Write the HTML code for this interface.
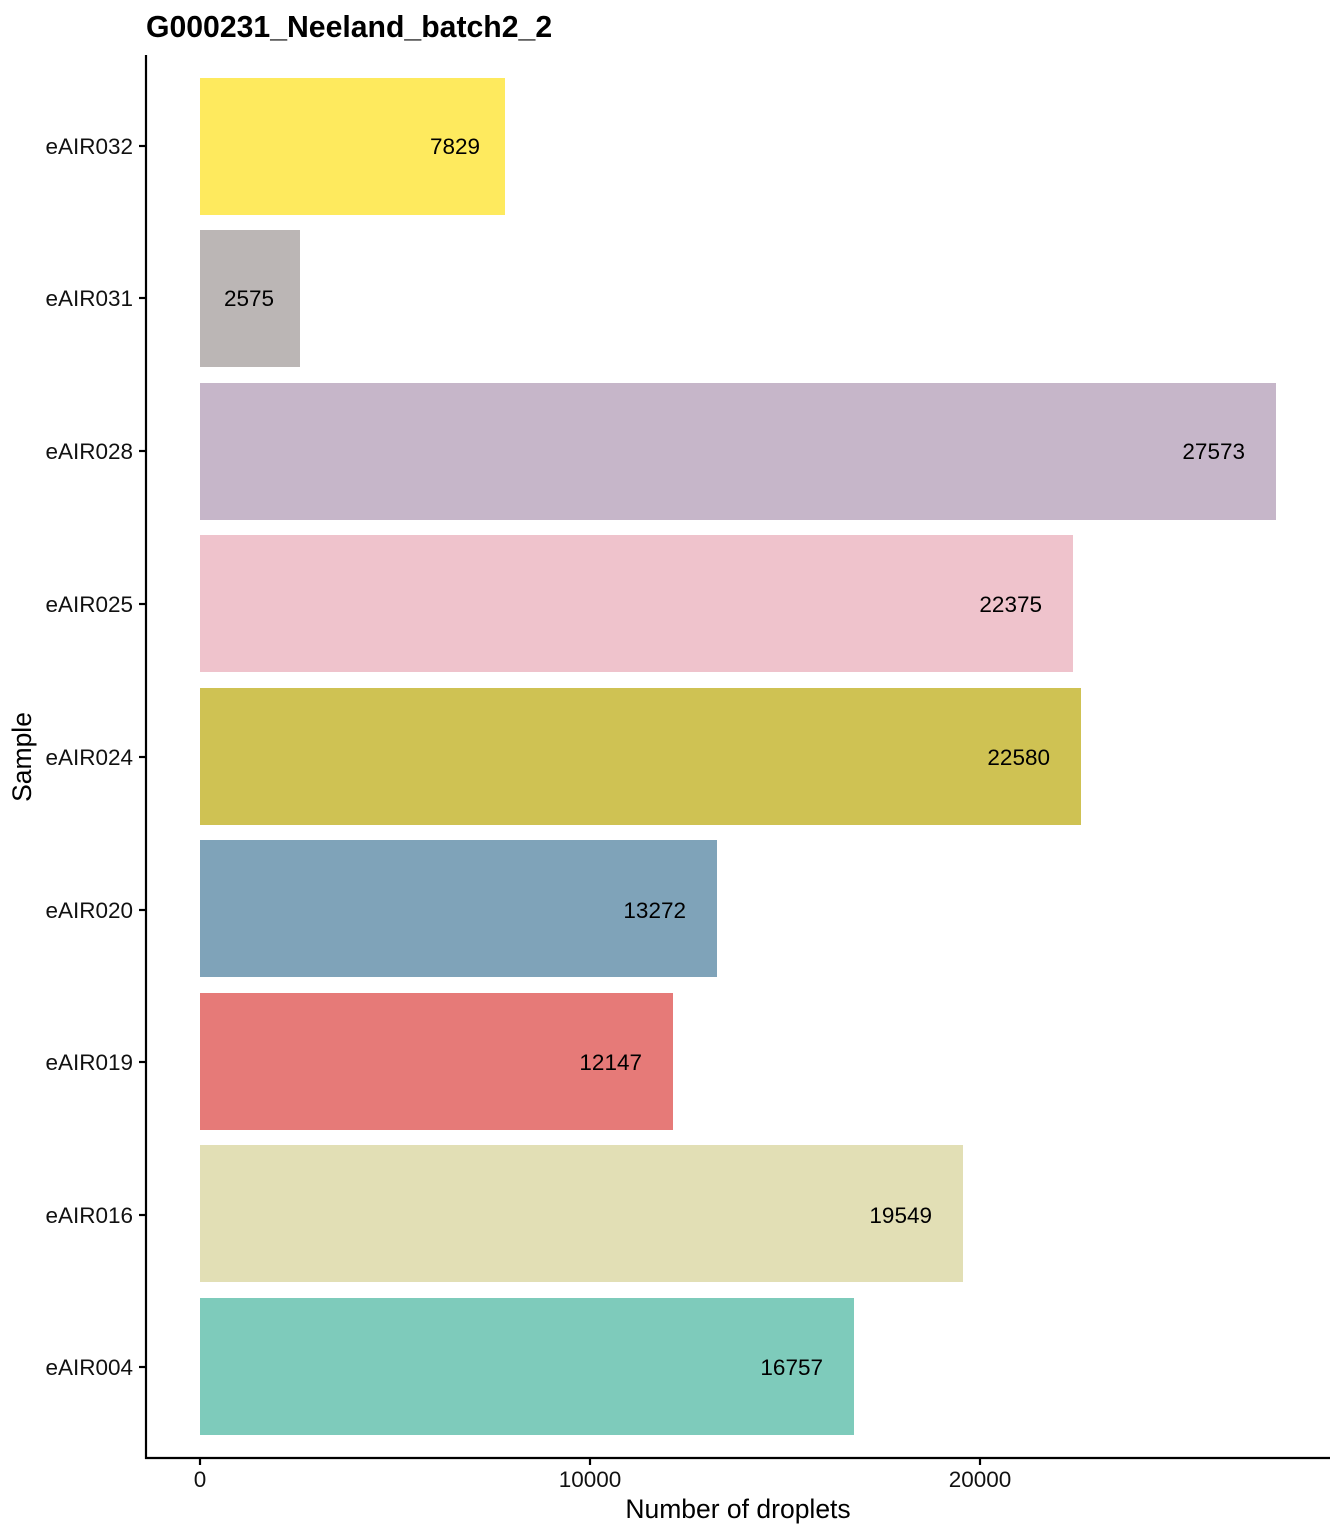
<!DOCTYPE html>
<html><head><style>body{margin:0;background:#fff}svg{display:block}text{font-family:"Liberation Sans",Arial,sans-serif}</style></head>
<body>
<svg width="1344" height="1536" viewBox="0 0 1344 1536" xmlns="http://www.w3.org/2000/svg">
<text x="146" y="37" font-size="30.2" font-weight="bold">G000231_Neeland_batch2_2</text>
<g>
<rect x="200" y="78" width="305" height="137" fill="#FEEA5E"/>
<rect x="200" y="230" width="100" height="137" fill="#BBB6B5"/>
<rect x="200" y="383" width="1076" height="137" fill="#C6B6C9"/>
<rect x="200" y="535" width="873" height="137" fill="#EFC3CC"/>
<rect x="200" y="688" width="881" height="137" fill="#CFC253"/>
<rect x="200" y="840" width="517" height="137" fill="#7FA3B9"/>
<rect x="200" y="993" width="473" height="137" fill="#E67A78"/>
<rect x="200" y="1145" width="763" height="137" fill="#E2DFB5"/>
<rect x="200" y="1298" width="654" height="137" fill="#7ECBBB"/>
</g>
<g font-size="22.5" text-anchor="end">
<text x="480" y="154">7829</text>
<text x="274" y="306">2575</text>
<text x="1245" y="459">27573</text>
<text x="1042" y="612">22375</text>
<text x="1050" y="765">22580</text>
<text x="686" y="918">13272</text>
<text x="642" y="1070">12147</text>
<text x="932" y="1223">19549</text>
<text x="823" y="1375">16757</text>
</g>
<g stroke="#000" stroke-width="2.2">
<line x1="146" y1="55" x2="146" y2="1459"/>
<line x1="145" y1="1458" x2="1330" y2="1458"/>
<line x1="139" y1="146" x2="146" y2="146"/>
<line x1="139" y1="298" x2="146" y2="298"/>
<line x1="139" y1="451" x2="146" y2="451"/>
<line x1="139" y1="604" x2="146" y2="604"/>
<line x1="139" y1="757" x2="146" y2="757"/>
<line x1="139" y1="910" x2="146" y2="910"/>
<line x1="139" y1="1062" x2="146" y2="1062"/>
<line x1="139" y1="1215" x2="146" y2="1215"/>
<line x1="139" y1="1367" x2="146" y2="1367"/>
<line x1="200" y1="1458" x2="200" y2="1465"/>
<line x1="590" y1="1458" x2="590" y2="1465"/>
<line x1="980" y1="1458" x2="980" y2="1465"/>
</g>
<g font-size="22.5" text-anchor="end" fill="#111">
<text x="133" y="154">eAIR032</text>
<text x="133" y="306">eAIR031</text>
<text x="133" y="459">eAIR028</text>
<text x="133" y="612">eAIR025</text>
<text x="133" y="765">eAIR024</text>
<text x="133" y="918">eAIR020</text>
<text x="133" y="1070">eAIR019</text>
<text x="133" y="1223">eAIR016</text>
<text x="133" y="1375">eAIR004</text>
</g>
<g font-size="22.5" text-anchor="middle" fill="#111">
<text x="200" y="1487">0</text>
<text x="590" y="1487">10000</text>
<text x="980" y="1487">20000</text>
</g>
<text x="738" y="1518" font-size="26.5" text-anchor="middle">Number of droplets</text>
<text x="31" y="757" font-size="26.5" text-anchor="middle" transform="rotate(-90 31 757)">Sample</text>
</svg>
</body></html>
